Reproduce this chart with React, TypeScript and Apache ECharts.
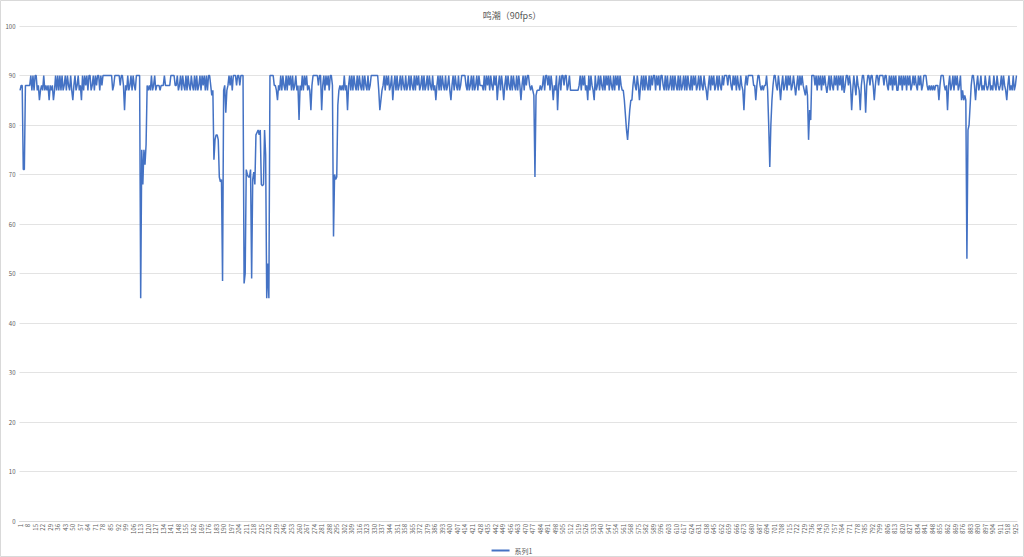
import React, { useEffect, useRef } from "react";
import * as echarts from "echarts";

const TITLE = "鸣潮（90fps）";
const SERIES_NAME = "系列1";
const Y_TICKS = [0, 10, 20, 30, 40, 50, 60, 70, 80, 90, 100];

// frame rate samples (926 samples)
const fps1: number[] = [
  87,88,88,71,71,88,88,88,88,88,90,87,90,87,90,90,87,88,85,87,
  88,87,90,87,88,87,88,85,88,87,88,85,87,90,87,90,87,90,87,90,
  87,88,90,87,90,88,87,90,87,85,88,90,87,88,90,87,88,85,90,87,
  90,88,90,87,90,90,87,88,90,87,90,88,90,90,87,90,88,90,90,90,
  90,90,90,90,90,90,87,88,90,90,90,90,90,88,90,90,88,83,88,87,
  90,87,88,90,87,90,88,87,90,90,90,90,45,75,68,75,72,76,88,87,
  88,87,90,87,88,90,87,88,88,88,87,88,88,88,90,88,88,88,88,88,
  90,90,90,90,88,88,90,87,88,90,87,90,88,87,90,87,90,88,87,90,
  88,87,90,87,90,87,88,90,87,90,88,90,87,90,87,90,90,88,86,87,
  73,77,78,78,77,69.5,68.5,69,48.5,87,88,82.5,87,88,90,88,90,87,90,90,
];
const fps2: number[] = [
  90,88,90,90,88,90,90,90,48,50,71,70,69.5,69.5,71,49,69,70.5,68,78,
  78.5,79,78,79,68,67.7,68,79,74,45,52,45,90,90,90,90,88,88,87,85,
  88,87,90,87,90,88,87,90,87,90,88,90,87,90,87,88,90,87,88,81,
  88,87,90,87,90,88,90,87,88,87,83,88,90,90,90,90,90,88,90,90,
  83,88,90,87,90,88,90,87,90,90,88,57.5,70,69,69.5,84,87,88,87,88,
  87,90,87,88,83,88,90,87,90,87,90,88,87,90,87,90,88,87,90,87,
  90,88,87,90,87,88,90,90,90,90,90,90,90,87,83,85,87,88,90,87,
  90,88,90,87,88,90,85,88,90,87,90,87,88,90,87,90,88,87,90,87,
  88,90,87,90,88,87,90,87,90,88,90,87,88,90,87,90,87,88,90,87,
  90,88,87,90,87,88,85,88,90,87,90,87,90,88,87,90,87,88,90,87,
];
const fps3: number[] = [
  85,88,90,87,90,88,87,90,87,88,90,90,90,90,88,87,90,87,88,90,
  87,90,87,88,90,87,90,88,88,88,87,90,87,90,88,90,87,90,88,87,
  90,88,90,85,88,90,87,90,88,85,88,90,87,90,88,87,90,87,90,88,
  87,90,87,90,88,85,88,90,87,90,88,90,90,88,87,88,87,86,69.5,86,
  87,87,87,88,87,88,90,87,90,90,88,90,87,90,88,85,88,87,90,83,
  88,90,87,90,90,88,90,90,87,88,90,87,87,87,87,87,87,87,87,88,
  90,87,90,88,90,87,88,85,90,87,90,88,87,85,90,87,88,90,87,90,
  88,87,90,87,90,88,90,87,90,88,87,90,87,90,88,90,87,90,88,87,
  87,85,82,79,77,80,83,85,85,88,90,88,87,90,88,85,88,90,87,90,
  87,90,88,87,90,87,90,88,90,90,87,90,88,90,87,90,90,88,87,90,
];
const fps4: number[] = [
  87,90,87,88,90,87,90,87,90,88,87,90,87,90,87,88,90,87,90,87,
  90,88,87,90,87,90,88,90,87,88,90,87,90,88,87,90,88,87,85,88,
  90,87,90,88,90,87,88,90,87,90,88,87,90,88,90,90,90,88,90,90,
  88,87,90,88,90,87,90,88,87,90,88,87,83,88,90,88,90,90,90,90,
  90,88,88,85,88,90,90,88,87,88,87,88,88,90,87,80,71.5,80,85,88,
  90,90,88,87,90,88,85,88,90,87,88,90,87,90,88,90,87,88,90,88,
  86,88,90,87,90,88,90,88,87,86,88,86,77,83,81,90,90,90,88,90,
  87,90,88,90,87,90,88,90,88,86.5,88,90,87,90,88,87,90,88,90,87,
  90,88,90,87,90,86.5,88,90,90,88,90,88,83,87,90,88,86,90,88,87,
  83,88,90,90,88,82.5,88,90,90,88,90,90,88,85,88,90,90,88,90,90,
];
const fps5: number[] = [
  90,90,88,90,90,88,87,90,88,90,87,90,88,90,87,87,90,88,90,87,
  90,88,90,87,90,88,90,87,88,90,88,90,88,87,90,88,90,87,88,90,
  90,90,88,87,88,87,88,87,88,87,88,88,88,85,88,90,90,90,88,87,
  88,83,88,90,87,88,90,87,90,88,90,87,88,90,85,87,85,86,85,53,
  79,80,84,88,90,90,88,85,88,90,87,88,90,87,88,87,90,88,87,88,
  90,87,88,87,90,88,87,90,88,87,88,90,87,90,88,87,85,88,90,87,
  88,87,90,87,88,90,
];

const FPS: number[] = [...fps1, ...fps2, ...fps3, ...fps4, ...fps5];
const CATEGORIES: string[] = FPS.map((_, i) => String(i + 1));

const FONT = "'Noto Sans CJK SC', 'Noto Sans', sans-serif";

export default function App() {
  const ref = useRef<HTMLDivElement>(null);
  useEffect(() => {
    if (!ref.current) return;
    const chart = echarts.init(ref.current, undefined, { renderer: "svg" });
    chart.setOption({
      animation: false,
      backgroundColor: "#ffffff",
      textStyle: { fontFamily: FONT },
      title: {
        text: TITLE,
        left: "center",
        top: 6,
        textStyle: { fontSize: 9, color: "#595959", fontWeight: "normal", fontFamily: FONT },
      },
      graphic: [
        {
          type: "rect",
          shape: { x: 0.5, y: 0.5, width: 1023, height: 556 },
          style: { fill: "none", stroke: "#d9d9d9", lineWidth: 1 },
          silent: true,
        },
      ],
      legend: {
        data: [SERIES_NAME],
        left: "center",
        top: 542,
        icon: "rect",
        itemWidth: 18,
        itemHeight: 2,
        itemGap: 4,
        textStyle: { fontSize: 7, color: "#595959", fontFamily: FONT },
      },
      grid: { left: 19.5, right: 7, top: 26, bottom: 36, containLabel: false },
      xAxis: {
        type: "category",
        data: CATEGORIES,
        boundaryGap: true,
        axisLine: { show: true, lineStyle: { color: "#d9d9d9" } },
        axisTick: { show: false },
        axisLabel: {
          interval: 6,
          rotate: 90,
          fontSize: 6,
          color: "#595959",
          margin: 3,
          fontFamily: FONT,
        },
      },
      yAxis: {
        type: "value",
        min: Y_TICKS[0],
        max: Y_TICKS[Y_TICKS.length - 1],
        interval: 10,
        axisLine: { show: false },
        axisTick: { show: false },
        splitLine: { lineStyle: { color: "#e3e3e3", width: 1 } },
        axisLabel: { fontSize: 6, color: "#595959", margin: 4, fontFamily: FONT },
      },
      series: [
        {
          name: SERIES_NAME,
          type: "line",
          data: FPS,
          showSymbol: false,
          symbol: "none",
          lineStyle: { color: "#4472C4", width: 1.5 },
          itemStyle: { color: "#4472C4" },
        },
      ],
    });
    return () => chart.dispose();
  }, []);
  return (
    <div
      ref={ref}
      style={{ position: "absolute", left: 0, top: 0, width: 1024, height: 557 }}
    />
  );
}
